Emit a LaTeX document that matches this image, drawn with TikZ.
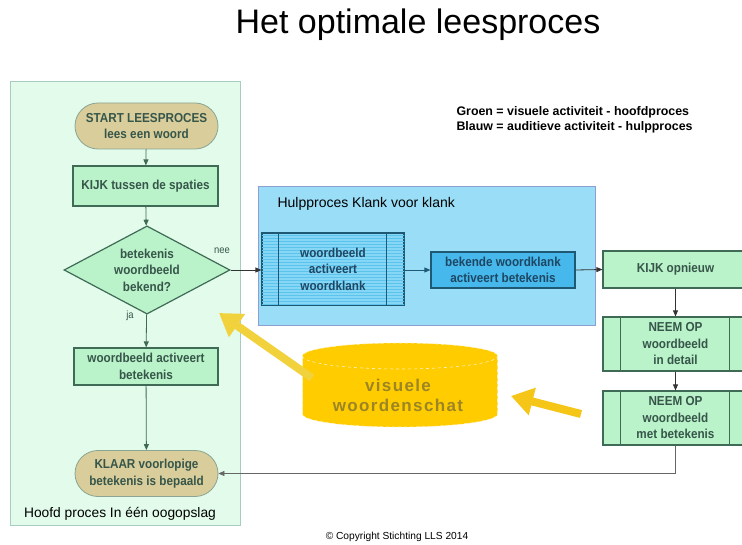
\documentclass[tikz,border=0pt]{standalone}
\usepackage{fontspec}
\setmainfont{Liberation Sans}
\newfontfamily\smalfont[FakeStretch=0.9]{Liberation Sans}
\usetikzlibrary{shapes.geometric,arrows.meta,patterns}
\definecolor{paneelgroen}{HTML}{E2FBEA}
\definecolor{paneelrand}{HTML}{A9CCC2}
\definecolor{groenvak}{HTML}{BAF2C9}
\definecolor{groenrand}{HTML}{3F6A55}
\definecolor{groentekst}{HTML}{36564A}
\definecolor{eindvak}{HTML}{D9CD9B}
\definecolor{eindrand}{HTML}{8AA594}
\definecolor{paneelblauw}{HTML}{99DDF7}
\definecolor{blauwpaneelrand}{HTML}{8C9FD0}
\definecolor{lichtblauw}{HTML}{86D6F6}
\definecolor{streepblauw}{HTML}{5CC3EC}
\definecolor{blauwvak}{HTML}{46B8EC}
\definecolor{blauwrand}{HTML}{1E5872}
\definecolor{blauwtekst}{HTML}{1E4763}
\definecolor{goud}{HTML}{FFCC00}
\definecolor{schattekst}{HTML}{9C8526}
\definecolor{pijlgeel}{HTML}{F5C518}
\definecolor{pijlgeellicht}{HTML}{F2D23C}
\begin{document}
\begin{tikzpicture}[x=1pt, y=-1pt,
  txt/.style={font=\smalfont\bfseries\fontsize{13}{16.5}\selectfont, align=center, text=#1},
  eind/.style={draw=eindrand, fill=eindvak, line width=0.8pt, rounded corners=23pt,
               minimum width=143pt, minimum height=46pt, txt=groentekst},
  groen/.style={draw=groenrand, fill=groenvak, line width=1.2pt, inner sep=0pt,
                minimum width=#1, txt=groentekst},
  blauw/.style={draw=blauwrand, line width=1.2pt, inner sep=0pt, txt=blauwtekst},
  pijl/.style={-{Triangle[length=6pt,width=5pt]}, line width=0.8pt, draw=#1},
  geel/.style={-{Triangle[length=22pt,width=27pt]}, line width=8pt, draw=#1}
]
  \useasboundingbox[fill=white] (0,0) rectangle (742,545);
  % titel
  \node[font=\fontsize{34}{38}\selectfont] (titel) at (418,25) {Het optimale leesproces};
  % panelen
  \node[draw=paneelrand, fill=paneelgroen, line width=1pt, minimum width=230pt,
        minimum height=443pt] (hoofd) at (125,303.5) {};
  \node[draw=blauwpaneelrand, fill=paneelblauw, line width=1pt, minimum width=337pt,
        minimum height=139pt] (hulp) at (426.5,256.5) {};
  \node[font=\fontsize{13.8}{16}\selectfont] (hoofdtekst) at (120,514) {Hoofd proces In één oogopslag};
  \node[font=\fontsize{14}{16}\selectfont, anchor=west] (hulptekst) at (274,204) {Hulpproces Klank voor klank};
  % legenda
  \node[font=\bfseries\fontsize{12.4}{14}\selectfont, anchor=west] (leg1) at (453,112)
        {Groen = visuele activiteit - hoofdproces};
  \node[font=\bfseries\fontsize{12.4}{14}\selectfont, anchor=west] (leg2) at (453,127)
        {Blauw = auditieve activiteit - hulpproces};
  % hoofdproces
  \node[eind]               (start) at (146.5,126)   {START LEESPROCES\\lees een woord};
  \node[groen=145pt, minimum height=40pt] (kijk)  at (145.5,186)   {KIJK tussen de spaties};
  \node[shape=diamond, draw=groenrand, fill=groenvak, line width=1.2pt, inner sep=-5pt,
        minimum width=166pt, minimum height=80pt, txt=groentekst] (vraag) at (147,270)
        {betekenis\\woordbeeld\\bekend?};
  \node[groen=144pt, minimum height=37pt] (actief) at (146,366.5) {woordbeeld activeert\\betekenis};
  \node[eind]               (klaar) at (146.5,473.5) {KLAAR voorlopige\\betekenis is bepaald};
  \node[font=\smalfont\fontsize{10.5}{12}\selectfont, text=groentekst] (nee) at (222,251) {nee};
  \node[font=\smalfont\fontsize{10.5}{12}\selectfont, text=groentekst] (ja)  at (130,316) {ja};
  % hulpproces
  \node[blauw, fill=lichtblauw, postaction={pattern=horizontal lines, pattern color=streepblauw},
        minimum width=142pt, minimum height=72pt] (klank1) at (333,269)
        {woordbeeld\\activeert\\woordklank};
  \draw[blauwrand, line width=1.2pt] ([xshift=17pt]klank1.north west) -- ([xshift=17pt]klank1.south west);
  \draw[blauwrand, line width=1.2pt] ([xshift=-18pt]klank1.north east) -- ([xshift=-18pt]klank1.south east);
  \node[blauw, fill=blauwvak, minimum width=144pt, minimum height=36pt] (klank2) at (503,270)
        {bekende woordklank\\activeert betekenis};
  % rechterkolom
  \node[groen=145pt, minimum height=37pt] (kijk2) at (675.5,269.5) {KIJK opnieuw};
  \node[groen=145pt, minimum height=54pt] (neem1) at (675.5,344) {NEEM OP\\woordbeeld\\in detail};
  \node[groen=145pt, minimum height=54pt] (neem2) at (675.5,418) {NEEM OP\\woordbeeld\\met betekenis};
  \foreach \n in {neem1,neem2}{
    \draw[groenrand, line width=1.2pt] ([xshift=18pt]\n.north west) -- ([xshift=18pt]\n.south west);
    \draw[groenrand, line width=1.2pt] ([xshift=-19pt]\n.north east) -- ([xshift=-19pt]\n.south east);
  }
  % woordenschat
  \fill[goud] (302.5,356) -- (302.5,414) arc (180:0:97.5 and 13) -- (497.5,356)
        arc (0:-180:97.5 and 13) -- cycle;
  \draw[white!75!goud, dashed, line width=0.6pt] (302.5,356) -- (302.5,414) arc (180:0:97.5 and 13)
        -- (497.5,356) arc (0:-180:97.5 and 13);
  \draw[white!75!goud, dashed, line width=0.6pt] (302.5,356) arc (180:0:97.5 and 13);
  \node[font=\bfseries\addfontfeature{LetterSpace=8}\fontsize{17}{20}\selectfont,
        text=schattekst, align=center] (schat) at (398,395) {visuele\\woordenschat};
  % gele pijlen
  \coordinate (g1a) at (312,378);
  \coordinate (g1b) at (219,313);
  \coordinate (g2a) at (581,414);
  \coordinate (g2b) at (511,396);
  \draw[geel=pijlgeellicht] (g1a) -- (g1b);
  \draw[geel=pijlgeel] (g2a) -- (g2b);
  % pijlen
  \draw[pijl=groenrand] (start) -- (kijk);
  \draw[pijl=groenrand] (kijk) -- (vraag);
  \draw[pijl=groenrand] (vraag) -- (actief);
  \draw[pijl=groenrand] (actief) -- (klaar);
  \draw[pijl=black!80] (vraag.east) -- (vraag.east -| klank1.west);
  \draw[pijl=blauwrand] (klank1.east |- klank2.west) -- (klank2.west);
  \draw[pijl=black!80] (klank2.east) -- (kijk2.west);
  \draw[pijl=black!80] (kijk2) -- (neem1);
  \draw[pijl=black!80] (neem1) -- (neem2);
  \draw[pijl=black!60] (neem2.south) |- (klaar.east);
  % copyright
  \node[font=\fontsize{10.2}{12}\selectfont] (copy) at (397,537) {© Copyright Stichting LLS 2014};
\end{tikzpicture}
\end{document}
